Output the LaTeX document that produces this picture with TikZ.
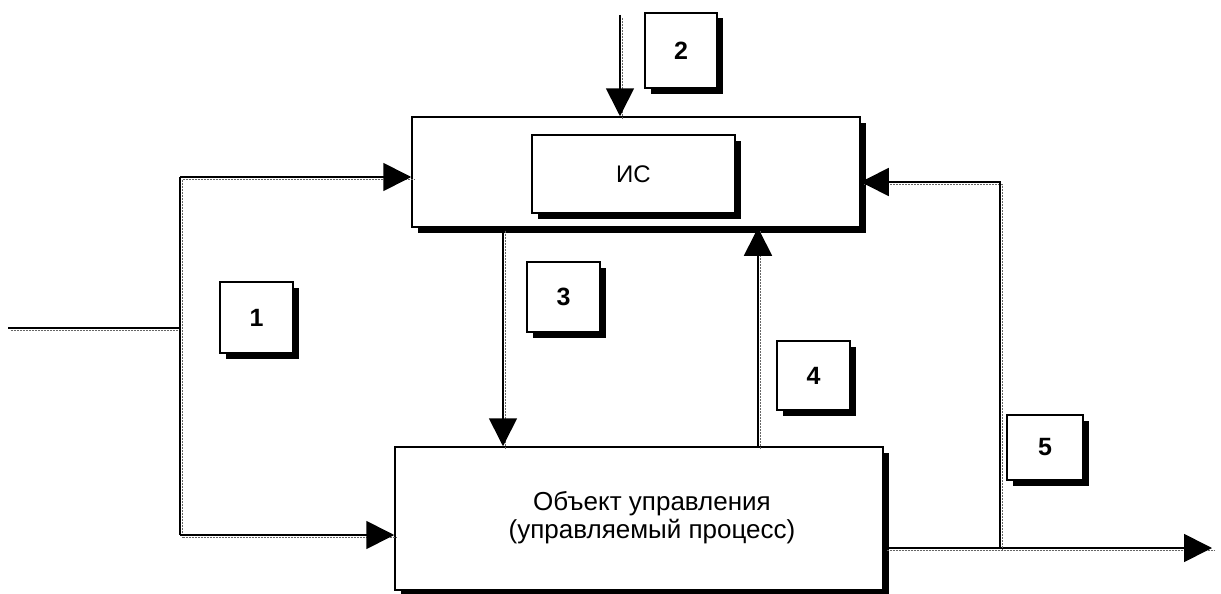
\documentclass[tikz,border=0pt]{standalone}
\usepackage{fontspec}
\setmainfont{Liberation Sans}
\usetikzlibrary{arrows.meta,shadows,calc}
\begin{document}
\begin{tikzpicture}[x=1pt,y=-1pt,
  box/.style={draw=black, line width=1.5pt, fill=white, inner sep=0pt,
    general shadow={fill=black, shadow xshift=5.5pt, shadow yshift=-5.5pt}},
  numbox/.style={box, font=\bfseries\fontsize{25}{28}\selectfont},
  conn/.style={draw=black, line width=1.7pt,
    preaction={draw=black!60, arrows=-, line width=1.3pt, dash pattern=on 2.2pt off 0.8pt,
      transform canvas={xshift=2.8pt,yshift=-2.8pt}}},
  arr/.style={conn, -{Triangle[length=28pt,width=28pt]}}
]
\useasboundingbox (0,0) rectangle (1221,594);
\fill[white] (0,0) rectangle (1221,594);

% blocks
\node[box, minimum width=448pt, minimum height=110pt] (top) at (636,172) {};
\node[box, minimum width=203pt, minimum height=78pt, font=\fontsize{24}{28}\selectfont] (is) at (633.5,174) {ИС};
\node[box, minimum width=488pt, minimum height=143pt] (obj) at (639,518.5) {};
\node[font=\fontsize{26}{28}\selectfont, align=center] (objtext) at (652,518) {Объект управления\\(управляемый процесс)};

% numbered tags
\node[numbox, minimum width=72pt, minimum height=75pt] (n2) at (681,50.5) {2};
\node[numbox, minimum width=73pt, minimum height=71pt] (n1) at (256.5,317.5) {1};
\node[numbox, minimum width=73pt, minimum height=70pt] (n3) at (563.5,297) {3};
\node[numbox, minimum width=73pt, minimum height=69pt] (n4) at (813.5,375.5) {4};
\node[numbox, minimum width=76pt, minimum height=65pt] (n5) at (1045,447.5) {5};

% helper coordinates
\coordinate (in) at (8,328);
\coordinate (j) at (180,328);
\coordinate (jt) at (180,177);
\coordinate (jb) at (180,535);
\coordinate (s2) at (620,15);
\coordinate (x3) at (503,0);
\coordinate (x4) at (758,0);
\coordinate (fb) at (1000,548);
\coordinate (fbt) at (1000,182);
\coordinate (outend) at (1212,548);

% connectors
\draw[conn] (in) -- (j);
\draw[conn] (jt) -- (jb);
\draw[arr] (jt) -- (jt -| top.west);
\draw[arr] (jb) -- (jb -| obj.west);
\draw[arr] (s2) -- (s2 |- top.north);
\draw[arr] (x3 |- top.south) -- (x3 |- obj.north);
\draw[arr] (x4 |- obj.north) -- (x4 |- top.south);
\draw[arr] (fb -| obj.east) -- (outend);
\draw[arr] (fb) -- (fbt) -- (fbt -| top.east);
\end{tikzpicture}
\end{document}
